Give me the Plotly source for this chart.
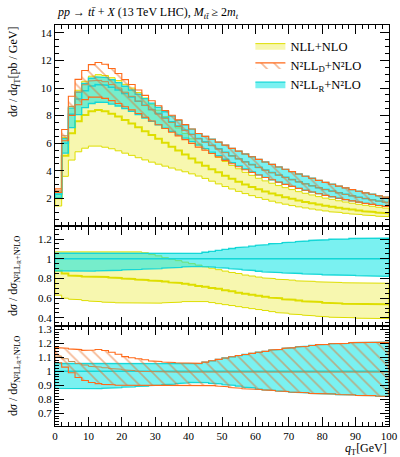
import plotly.graph_objects as go

# ---------------- data (2 GeV bins, 0..100 GeV) ----------------
qt_edges = list(range(0, 101, 2))

# N2LL_R + N2LO (cyan)
r_central = [2.3, 6.0, 8.1, 9.2, 9.8, 10.15, 10.25, 10.2, 10.05, 9.85, 9.6, 9.35, 9.05, 8.75, 8.45,
             8.15, 7.85, 7.55, 7.25, 6.95, 6.65, 6.35, 6.1, 5.85, 5.6, 5.35, 5.1, 4.88, 4.66, 4.45,
             4.25, 4.06, 3.88, 3.7, 3.53, 3.37, 3.21, 3.06, 2.92, 2.78, 2.65, 2.53, 2.41, 2.3, 2.19,
             2.09, 1.99, 1.9, 1.81, 1.73]
r_low = [2.02, 5.28, 7.13, 8.08, 8.58, 8.88, 8.98, 8.96, 8.84, 8.70, 8.51, 8.31, 8.07, 7.83, 7.59,
         7.34, 7.10, 6.86, 6.61, 6.37, 6.12, 5.86, 5.61, 5.35, 5.10, 4.84, 4.59, 4.36, 4.13, 3.92,
         3.71, 3.52, 3.35, 3.18, 3.02, 2.87, 2.73, 2.59, 2.46, 2.34, 2.22, 2.12, 2.01, 1.91, 1.82,
         1.73, 1.64, 1.57, 1.49, 1.42]
r_high = [2.43, 6.33, 8.55, 9.71, 10.34, 10.71, 10.81, 10.76, 10.60, 10.39, 10.13, 9.86, 9.55, 9.23,
          8.91, 8.60, 8.28, 7.97, 7.65, 7.33, 7.02, 6.70, 6.50, 6.29, 6.08, 5.86, 5.63, 5.43, 5.22,
          5.02, 4.83, 4.64, 4.47, 4.28, 4.11, 3.94, 3.77, 3.61, 3.46, 3.31, 3.16, 3.03, 2.89, 2.76,
          2.64, 2.52, 2.40, 2.30, 2.19, 2.09]

# NLL + NLO (yellow)
y_central = [2.02, 5.10, 6.72, 7.59, 8.04, 8.32, 8.41, 8.31, 8.14, 7.93, 7.68, 7.43, 7.15, 6.87, 6.59,
             6.32, 6.04, 5.74, 5.47, 5.18, 4.89, 4.60, 4.36, 4.12, 3.89, 3.64, 3.42, 3.20, 3.01, 2.83,
             2.66, 2.50, 2.35, 2.22, 2.08, 1.97, 1.85, 1.74, 1.65, 1.56, 1.47, 1.39, 1.32, 1.25, 1.19,
             1.13, 1.07, 1.02, 0.97, 0.93]
y_low = [1.45, 3.60, 4.78, 5.38, 5.64, 5.79, 5.79, 5.71, 5.60, 5.45, 5.28, 5.12, 4.95, 4.79, 4.63,
         4.48, 4.34, 4.20, 4.06, 3.93, 3.78, 3.62, 3.45, 3.25, 3.05, 2.86, 2.68, 2.51, 2.35, 2.20,
         2.06, 1.93, 1.80, 1.68, 1.58, 1.48, 1.39, 1.31, 1.23, 1.16, 1.09, 1.03, 0.98, 0.92, 0.88,
         0.83, 0.79, 0.75, 0.71, 0.68]
y_high = [2.46, 6.42, 8.67, 9.84, 10.49, 10.86, 10.97, 10.91, 10.75, 10.54, 10.27, 10.00, 9.68, 9.28,
          8.83, 8.39, 7.93, 7.51, 7.11, 6.71, 6.32, 5.94, 5.61, 5.29, 4.98, 4.68, 4.39, 4.15, 3.89,
          3.67, 3.46, 3.27, 3.10, 2.93, 2.78, 2.64, 2.49, 2.37, 2.25, 2.13, 2.02, 1.93, 1.83, 1.74,
          1.65, 1.57, 1.50, 1.43, 1.36, 1.30]

# N2LL_D + N2LO (orange, hatched)
d_central = [2.55, 6.54, 8.67, 9.71, 10.24, 10.51, 10.56, 10.46, 10.25, 10.00, 9.70, 9.40, 9.05, 8.73,
             8.42, 8.11, 7.81, 7.51, 7.21, 6.92, 6.62, 6.32, 6.07, 5.82, 5.57, 5.32, 5.07, 4.86, 4.64,
             4.43, 4.23, 4.04, 3.86, 3.68, 3.51, 3.35, 3.19, 3.05, 2.91, 2.77, 2.64, 2.52, 2.40, 2.29,
             2.18, 2.08, 1.98, 1.89, 1.80, 1.72]
d_low = [2.44, 6.18, 8.02, 8.79, 9.16, 9.34, 9.35, 9.25, 9.09, 8.88, 8.64, 8.42, 8.15, 7.88, 7.61,
         7.34, 7.07, 6.80, 6.53, 6.26, 5.99, 5.72, 5.49, 5.25, 5.01, 4.76, 4.51, 4.29, 4.08, 3.88,
         3.70, 3.52, 3.35, 3.18, 3.02, 2.87, 2.73, 2.59, 2.46, 2.34, 2.22, 2.12, 2.01, 1.91, 1.82,
         1.73, 1.64, 1.57, 1.49, 1.42]
d_high = [2.69, 6.99, 9.40, 10.63, 11.27, 11.70, 11.85, 11.72, 11.42, 11.05, 10.61, 10.26, 9.86, 9.47,
          9.08, 8.72, 8.37, 8.03, 7.69, 7.35, 7.03, 6.71, 6.50, 6.29, 6.08, 5.86, 5.63, 5.43, 5.22,
          5.02, 4.83, 4.64, 4.47, 4.28, 4.11, 3.94, 3.77, 3.61, 3.46, 3.31, 3.16, 3.03, 2.89, 2.76,
          2.64, 2.52, 2.40, 2.30, 2.19, 2.09]

names = ["NLL+NLO", "N²LL<sub>D</sub>+N²LO", "N²LL<sub>R</sub>+N²LO"]

# ---------------- helpers ----------------
FONT = "Liberation Serif, Times New Roman, DejaVu Serif, serif"


def steps(vals):
    xs, ys = [], []
    for i, v in enumerate(vals):
        xs += [qt_edges[i], qt_edges[i + 1]]
        ys += [v, v]
    return xs, ys


def band(lo, hi):
    xs, ys = steps(hi)
    for i in reversed(range(len(lo))):
        xs += [qt_edges[i + 1], qt_edges[i]]
        ys += [lo[i], lo[i]]
    xs.append(xs[0])
    ys.append(ys[0])
    return xs, ys


def ratio(a, b):
    return [x / y for x, y in zip(a, b)]


YEL_FILL = "rgba(240,240,110,0.55)"
YEL_LINE = "rgb(222,222,0)"
CYA_FILL = "rgba(0,228,228,0.52)"
CYA_LINE = "rgb(20,215,215)"
ORA_LINE = "rgb(255,105,25)"

fig = go.Figure()


def add_yellow(lo, hi, c, xa, ya, legend):
    bx, by = band(lo, hi)
    fig.add_trace(go.Scatter(x=bx, y=by, fill="toself", fillcolor=YEL_FILL, mode="lines",
                             line=dict(color=YEL_LINE, width=1), name=names[0], legendrank=1,
                             showlegend=legend, xaxis=xa, yaxis=ya, hoverinfo="skip"))
    sx, sy = steps(c)
    fig.add_trace(go.Scatter(x=sx, y=sy, mode="lines", line=dict(color=YEL_LINE, width=2),
                             showlegend=False, xaxis=xa, yaxis=ya, hoverinfo="skip"))


def add_cyan(lo, hi, c, xa, ya, legend):
    bx, by = band(lo, hi)
    fig.add_trace(go.Scatter(x=bx, y=by, fill="toself", fillcolor=CYA_FILL, mode="lines",
                             line=dict(color=CYA_LINE, width=1.3), name=names[2], legendrank=3,
                             showlegend=legend, xaxis=xa, yaxis=ya, hoverinfo="skip"))
    sx, sy = steps(c)
    fig.add_trace(go.Scatter(x=sx, y=sy, mode="lines", line=dict(color=CYA_LINE, width=1.5),
                             showlegend=False, xaxis=xa, yaxis=ya, hoverinfo="skip"))


def add_orange(lo, hi, c, xa, ya, legend):
    bx, by = band(lo, hi)
    fig.add_trace(go.Scatter(x=bx, y=by, fill="toself", fillcolor="rgba(0,0,0,0)", mode="lines",
                             fillpattern=dict(shape="\\", fgcolor="rgb(235,110,35)",
                                              bgcolor="rgba(0,0,0,0)", size=9, solidity=0.18),
                             line=dict(color=ORA_LINE, width=1.1), name=names[1], legendrank=2,
                             showlegend=legend, xaxis=xa, yaxis=ya, hoverinfo="skip"))
    sx, sy = steps(c)
    fig.add_trace(go.Scatter(x=sx, y=sy, mode="lines", line=dict(color="rgb(200,140,80)", width=1),
                             showlegend=False, xaxis=xa, yaxis=ya, hoverinfo="skip"))


# main panel
add_yellow(y_low, y_high, y_central, "x", "y", True)
add_cyan(r_low, r_high, r_central, "x", "y", True)
add_orange(d_low, d_high, d_central, "x", "y", True)

# ratio panel 1 : NLL+NLO and N2LL_R relative to N2LL_R central
add_yellow(ratio(y_low, r_central), ratio(y_high, r_central), ratio(y_central, r_central), "x2", "y2", False)
add_cyan(ratio(r_low, r_central), ratio(r_high, r_central), ratio(r_central, r_central), "x2", "y2", False)

# ratio panel 2 : N2LL_D and N2LL_R relative to N2LL_R central
add_cyan(ratio(r_low, r_central), ratio(r_high, r_central), ratio(r_central, r_central), "x3", "y3", False)
add_orange(ratio(d_low, r_central), ratio(d_high, r_central), ratio(d_central, r_central), "x3", "y3", False)

# ---------------- layout ----------------
H_TOT = 401.0
d_r2 = [0, 100 / H_TOT]
d_r1 = [100 / H_TOT, 200 / H_TOT]
d_main = [200 / H_TOT, 1]

tickfont = dict(family=FONT, size=11, color="black")


def xax(anchor, labels):
    return dict(range=[0, 100], domain=[0, 1], anchor=anchor, showline=True, linecolor="black",
                linewidth=1, mirror="allticks", ticks="inside", ticklen=9, tickwidth=1,
                tickcolor="black", tickmode="linear", tick0=0, dtick=10,
                minor=dict(ticks="inside", ticklen=4, tickwidth=1, tickcolor="black",
                           tickmode="linear", tick0=0, dtick=2, showgrid=False),
                showgrid=False, zeroline=False, showticklabels=labels, tickfont=tickfont)


def yax(anchor, dom, rng, vals, texts, minor_dtick):
    return dict(range=rng, domain=dom, anchor=anchor, showline=True, linecolor="black",
                linewidth=1, mirror="allticks", ticks="inside", ticklen=9, tickwidth=1,
                tickcolor="black", tickmode="array", tickvals=vals, ticktext=texts,
                minor=dict(ticks="inside", ticklen=4, tickwidth=1, tickcolor="black",
                           tickmode="linear", tick0=0, dtick=minor_dtick, showgrid=False),
                showgrid=False, zeroline=False, tickfont=tickfont)


main_ticks = [2, 4, 6, 8, 10, 12, 14]
r1_ticks = [0.4, 0.6, 0.8, 1.0, 1.2]
r1_text = ["0.4", "0.6", "0.8", "1", "1.2"]
r2_ticks = [0.7, 0.8, 0.9, 1.0, 1.1, 1.2, 1.3]
r2_text = ["0.7", "0.8", "0.9", "1", "1.1", "1.2", "1.3"]

fig.update_layout(
    width=400, height=457,
    margin=dict(l=55, r=11, t=25, b=31, autoexpand=False),
    paper_bgcolor="white", plot_bgcolor="white",
    font=dict(family=FONT, size=12, color="black"),
    xaxis=xax("y", False),
    xaxis2=xax("y2", False),
    xaxis3=xax("y3", True),
    yaxis=yax("x", d_main, [0, 14.57], main_ticks, [str(t) for t in main_ticks], 0.5),
    yaxis2=yax("x2", d_r1, [0.318, 1.332], r1_ticks, r1_text, 0.05),
    yaxis3=yax("x3", d_r2, [0.609, 1.324], r2_ticks, r2_text, 0.02),
    legend=dict(x=0.585, y=0.985, xanchor="left", yanchor="top", bgcolor="rgba(0,0,0,0)",
                font=dict(family=FONT, size=12.5), itemwidth=30, tracegroupgap=0,
                traceorder="normal"),
    showlegend=True,
)

ann = [
    dict(text="<i>pp</i> → <i>t</i><i>t̄</i> + <i>X</i> (13 TeV LHC), <i>M</i><sub><i>tt̄</i></sub> ≥ 2<i>m</i><sub><i>t</i></sub>",
         x=0, xanchor="left", y=(426 - 13) / H_TOT, yanchor="middle", font=dict(size=12)),
    dict(text="<i>q</i><sub>T</sub>[GeV]", x=1, xanchor="right", y=(426 - 449) / H_TOT,
         yanchor="middle", font=dict(size=12)),
    dict(text="d<i>σ</i> / d<i>q</i><sub>T</sub>[pb / GeV]", x=(14 - 55) / 334, xanchor="center",
         y=1, yanchor="top", textangle=-90, font=dict(size=12)),
    dict(text="d<i>σ</i> / d<i>σ</i><sub>N²LL<sub>R</sub>+N²LO</sub>", x=(14 - 55) / 334,
         xanchor="center", y=(426 - 276) / H_TOT, yanchor="middle", textangle=-90, font=dict(size=12)),
    dict(text="d<i>σ</i> / d<i>σ</i><sub>N²LL<sub>R</sub>+N²LO</sub>", x=(14 - 55) / 334,
         xanchor="center", y=(426 - 376) / H_TOT, yanchor="middle", textangle=-90, font=dict(size=12)),
]
for a in ann:
    a.update(xref="paper", yref="paper", showarrow=False)
fig.update_layout(annotations=ann)

fig.write_html("out.html", config={"displayModeBar": False, "staticPlot": True},
               post_script="document.body.style.margin='0';document.body.style.padding='0';")
